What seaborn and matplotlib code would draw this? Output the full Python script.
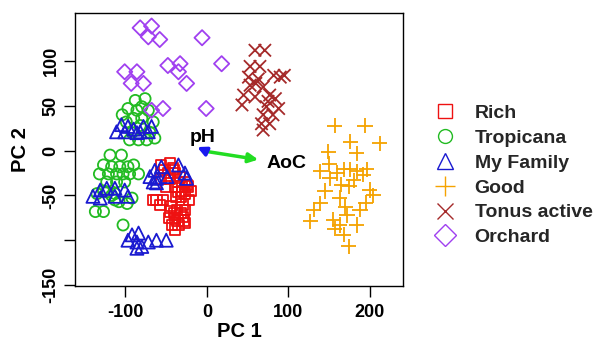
import numpy as np
import pandas as pd
import matplotlib
matplotlib.use("Agg")
import matplotlib.pyplot as plt
import seaborn as sns
from matplotlib.lines import Line2D

groups = ["Rich", "Tropicana", "My Family", "Good", "Tonus active", "Orchard"]
colors = ["#EE1111", "#22BB22", "#1A1AD0", "#F5A300", "#A52A2A", "#A040F0"]
markers = ["s", "o", "^", "+", "x", "D"]
sizes = [55, 64, 88, 120, 80, 60]

rich_x = [-56, -45, -52, -41, -56, -46, -35, -27, -39, -31, -23, -35, -27, -62, -54,
          -66, -58, -45, -37, -27, -47, -39, -29, -43, -35, -27, -39, -20, -22, -50,
          -33, -30, -25, -40, -32, -36, -30, -42, -48, -38, -32, -44, -28, -40]
rich_y = [-16, -14, -22, -22, -31, -31, -35, -35, -40, -40, -40, -46, -48, -55, -55,
          -55, -61, -68, -66, -66, -75, -75, -74, -83, -83, -81, -88, -45, -55, -40,
          -30, -45, -38, -70, -70, -78, -60, -20, -25, -52, -52, -62, -78, -25]

trop_x = [-88, -76, -80, -97, -86, -72, -90, -80, -66, -99, -95, -84, -74, -64, -92, -82, -104, -70,
          -119, -105, -127, -117, -107, -97, -90, -132, -121, -111, -103, -95, -84, -123, -111,
          -101, -137, -127, -103, -113, -92, -127, -108, -98, -117, -135, -123, -113]
trop_y = [56, 58, 49, 47, 45, 45, 36, 36, 32, 32, 12, 12, 12, 14, 20, 28, 40, 20,
          -5, -5, -16, -18, -18, -18, -16, -26, -26, -26, -26, -26, -26, -35, -35,
          -35, -68, -68, -83, -55, -53, -45, -57, -59, -50, -48, -46, -48]

fam_x = [-105, -97, -78, -68, -111, -101, -82, -72, -90, -86,
         -131, -123, -113, -101, -140, -97, -131, -113,
         -92, -84, -97, -86, -80, -72, -62, -50, -86,
         -64, -56, -35, -27, -70, -62, -49, -25, -62, -66]
fam_y = [29, 27, 27, 27, 21, 21, 21, 21, 24, 20,
         -44, -42, -42, -44, -51, -51, -53, -51,
         -94, -92, -100, -102, -107, -102, -100, -100, -109,
         -22, -18, -16, -25, -29, -31, -29, -31, -36, -35]

good_x = [157, 194, 176, 212, 149, 184, 139, 160, 168, 176, 184, 196, 151, 165, 180, 200, 204,
          163, 139, 170, 131, 188, 127, 155, 163, 184, 157, 168, 174, 145, 175, 192, 172, 150, 195]
good_y = [28, 28, 10, 8, -1, -3, -23, -25, -21, -21, -23, -21, -31, -38, -33, -44, -50,
          -53, -59, -63, -66, -66, -79, -77, -83, -83, -87, -94, -107, -45, -40, -27, -72, -15, -58]

tonus_x = [59, 71, 53, 65, 82, 95, 51, 63, 53, 69, 45, 59, 77, 43, 84, 73, 88, 69, 81, 67, 77, 69, 60, 75, 90]
tonus_y = [112, 112, 94, 94, 84, 84, 82, 80, 73, 71, 62, 60, 62, 51, 58, 49, 47, 40, 40, 30, 30, 23, 75, 55, 82]

orch_x = [-82, -68, -72, -58, -6, -101, -86, -93, -78, -48, -33, -35, -25, 18, -54, -1, -68]
orch_y = [137, 139, 127, 124, 126, 88, 88, 75, 75, 95, 97, 88, 75, 97, 47, 47, 45]

xticks = [-100, 0, 100, 200]
yticks = [100, 50, 0, -50, -100, -150]
ytick_labels = ["100", "50", "0", "-50", "", "-150"]

arrow_ph = (-12, 4)
arrow_aoc = (63, -10)

all_x = [rich_x, trop_x, fam_x, good_x, tonus_x, orch_x]
all_y = [rich_y, trop_y, fam_y, good_y, tonus_y, orch_y]
frames = []
for g, xs, ys in zip(groups, all_x, all_y):
    frames.append(pd.DataFrame({"PC1": xs, "PC2": ys, "group": g}))
df = pd.concat(frames, ignore_index=True)

sns.set_theme(style="white")
plt.rcParams["font.family"] = ["Liberation Sans", "DejaVu Sans"]
plt.rcParams["font.weight"] = "bold"
plt.rcParams["axes.unicode_minus"] = False

fig = plt.figure(figsize=(6.03, 3.44), dpi=100)
ax = fig.add_axes([75 / 603, 1 - 286 / 344, (403 - 75) / 603, (286 - 13) / 344])

for g, c, m, s in zip(groups, colors, markers, sizes):
    sub = df[df["group"] == g]
    n_before = len(ax.collections)
    sns.scatterplot(data=sub, x="PC1", y="PC2", marker=m, s=s, color=c, ax=ax, legend=False)
    coll = ax.collections[n_before]
    coll.set_facecolor("none")
    coll.set_edgecolor(c)
    coll.set_linewidth(1.3)

ax.annotate("", xy=arrow_aoc, xytext=(0, -1),
            arrowprops=dict(arrowstyle="-|>", color="#22DD22", lw=2.5, mutation_scale=14, shrinkA=0, shrinkB=0))
ax.annotate("", xy=arrow_ph, xytext=(0, -1),
            arrowprops=dict(arrowstyle="-|>", color="#1A1AF0", lw=2.5, mutation_scale=13, shrinkA=0, shrinkB=0))
ax.text(-5, 15, "pH", ha="center", va="center", fontsize=14, fontweight="bold", color="black")
ax.text(98, -14, "AoC", ha="center", va="center", fontsize=14, fontweight="bold", color="black")

ax.set_xlim(-162, 240.7)
ax.set_ylim(-151.1, 153.6)
ax.set_xticks(xticks)
ax.set_xticklabels([str(t) for t in xticks])
ax.set_yticks(yticks)
ax.set_yticklabels(ytick_labels, rotation=90, va="center")
ax.tick_params(axis="both", direction="out", length=8, width=1, labelsize=13,
               color="black", labelcolor="black", bottom=True, left=True)
ax.tick_params(axis="x", pad=5)
ax.tick_params(axis="y", pad=3)
for lab in ax.get_xticklabels() + ax.get_yticklabels():
    lab.set_fontweight("bold")
for sp in ax.spines.values():
    sp.set_color("black")
    sp.set_linewidth(1.0)
ax.set_xlabel("PC 1", fontsize=14.5, fontweight="bold", labelpad=1, color="black")
ax.set_ylabel("PC 2", fontsize=14.5, fontweight="bold", labelpad=9, color="black")

handles = [Line2D([], [], linestyle="none", marker=m, markerfacecolor="none", markeredgecolor=c,
                  markersize=ms, markeredgewidth=1.0)
           for m, c, ms in zip(markers, colors, [10, 10, 12, 15, 11, 11])]
leg = ax.legend(handles, groups, loc="upper left", bbox_to_anchor=(435 / 603, 1 - 104.5 / 344),
                bbox_transform=fig.transFigure, frameon=False, fontsize=14, handlelength=1.0,
                handletextpad=1.04, labelspacing=0.37, borderpad=0, borderaxespad=0)
for t in leg.get_texts():
    t.set_fontweight("bold")

fig.savefig("out.png", dpi=100)
